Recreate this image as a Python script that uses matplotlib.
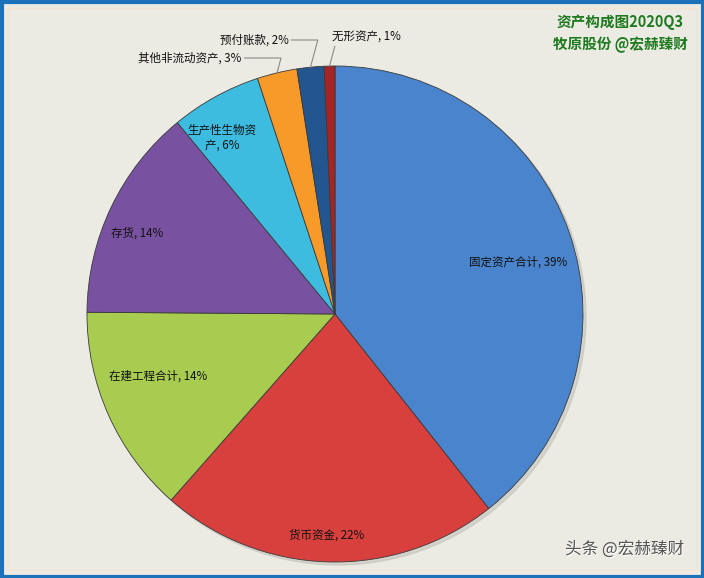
import numpy as np
import matplotlib
matplotlib.use('Agg')
import matplotlib.pyplot as plt
from matplotlib.patches import Rectangle

plt.rcParams['font.family'] = ['Noto Sans CJK SC', 'DejaVu Sans']

names = ['固定资产合计', '货币资金', '在建工程合计', '存货', '生产性生物资\n产', '其他非流动资产', '预付账款', '无形资产']
values = [39.3, 22.1, 13.6, 13.9, 5.9, 2.6, 1.75, 0.7]
colors = ['#4A84CC', '#D8403E', '#A8CC50', '#7852A0', '#3DBCE0', '#F79A2A', '#23558F', '#A52525']

# label positions in pixels (x, y from top); None = leader line
label_pos = [(518, 262), (327, 535), (158, 376), (137, 233), (222, 138), (190, 58), (254, 40), (366, 37)]
outside = [False, False, False, False, False, True, True, True]

W, H = 704, 578
fig = plt.figure(figsize=(W / 100, H / 100), dpi=100, facecolor='#EBEAE3')
ax = fig.add_axes([0, 0, 1, 1])
ax.set_xlim(0, W)
ax.set_ylim(0, H)
ax.set_aspect('equal')
ax.axis('off')

cx, cy, r = 335, H - 314, 248
# soft shadow
ax.add_patch(plt.Circle((cx + 3, cy - 3), r, color='#BEBDB5', alpha=0.5, zorder=0))
wedges, _ = ax.pie(values, colors=colors, startangle=90, counterclock=False,
                   center=(cx, cy), radius=r, frame=True,
                   wedgeprops=dict(edgecolor='#3a3a3a', linewidth=0.6))
ax.set_xlim(0, W)
ax.set_ylim(0, H)
ax.axis('off')

total = sum(values)
for w, name, v, pos, out in zip(wedges, names, values, label_pos, outside):
    txt = f'{name}, {round(v / total * 100):.0f}%'
    lx, ly = pos[0], H - pos[1]
    if out:
        mid = np.deg2rad((w.theta1 + w.theta2) / 2)
        ex, ey = cx + r * np.cos(mid), cy + r * np.sin(mid)
        ax.annotate(txt, xy=(ex, ey), xytext=(lx, ly), fontsize=8.3, color='#111111',
                    ha='center', va='center',
                    arrowprops=dict(arrowstyle='-', color='#8a8a8a', lw=0.8,
                                    shrinkA=0, shrinkB=0,
                                    connectionstyle='angle,angleA=0,angleB=75,rad=0'))
    else:
        ax.text(lx, ly, txt, fontsize=8.3, color='#111111', ha='center', va='center',
                multialignment='center')

ax.text(620, H - 22, '资产构成图2020Q3', fontsize=10.5, fontweight='bold',
        color='#1E7A1E', ha='center', va='center')
ax.text(620, H - 45, '牧原股份 @宏赫臻财', fontsize=10.5, fontweight='bold',
        color='#1E7A1E', ha='center', va='center')

ax.text(626, H - 550, '头条 @宏赫臻财', fontsize=12, color='white', ha='center', va='center')
ax.text(625, H - 549, '头条 @宏赫臻财', fontsize=12, color='#555555', ha='center', va='center')

ax.add_patch(Rectangle((8, 8), W - 16, H - 16, fill=False, ec='#F3E3CF', lw=1, zorder=0))
ax.add_patch(Rectangle((1.5, 1.5), W - 3, H - 3, fill=False, ec='#1B72B8', lw=3, zorder=5))

fig.savefig('out.png', dpi=100, facecolor=fig.get_facecolor())
